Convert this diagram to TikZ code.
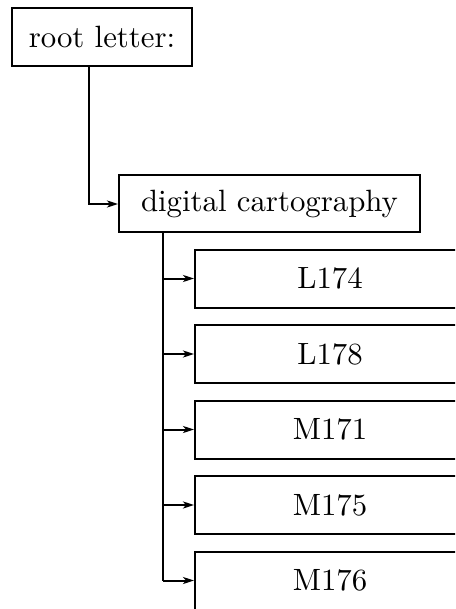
\documentclass[tikz,border=0pt]{standalone}
\usepackage{fontspec}
\setmainfont{lmroman10-regular.otf}
\usetikzlibrary{arrows.meta}
\begin{document}
\begin{tikzpicture}[x=1pt,y=-1pt,
  box/.style={draw,line width=2pt,rectangle,inner sep=0pt,font=\fontsize{30.8}{36}\selectfont},
  conn/.style={line width=2pt,-{Stealth[length=11pt,width=7pt,inset=3pt]}}]
\useasboundingbox (0,0) rectangle (455,609);
\clip (0,0) rectangle (455,609);
\node[box,minimum width=180pt,minimum height=58pt] (root) at (102,37) {root letter:\hspace{11pt}};
\node[box,minimum width=301pt,minimum height=57pt] (dig) at (269.5,204) {digital cartography\hspace{3pt}};
\foreach \n/\t/\y in {a/L174/278.5,b/L178/354,c/M171/429.5,d/M175/505,e/M176/580.5}{
  \node[box,minimum width=270pt,minimum height=58pt] (\n) at (330,\y) {\t};
}
\draw[conn] ([xshift=-13pt]root.south) |- (dig.west);
\draw[line width=2pt] ([xshift=-106.5pt]dig.south) -- ([xshift=-106.5pt]dig.south |- e.west);
\foreach \n in {a,b,c,d,e}{
  \draw[conn] ([xshift=-106.5pt]dig.south |- \n.west) -- (\n.west);
}
\end{tikzpicture}
\end{document}
